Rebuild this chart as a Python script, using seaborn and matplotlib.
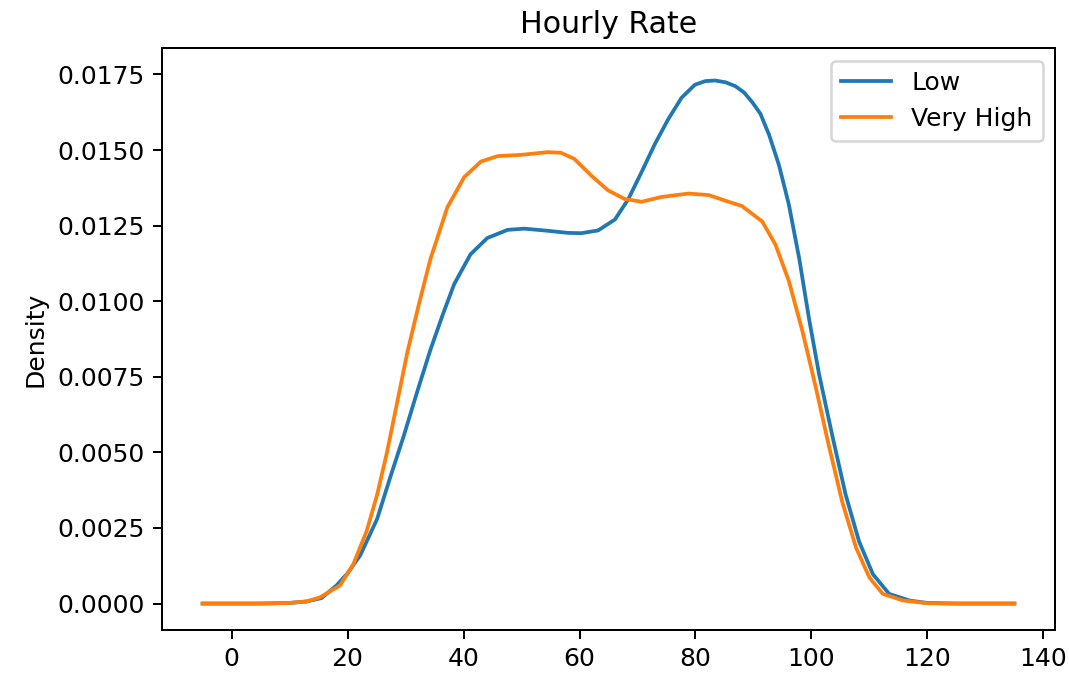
import matplotlib
matplotlib.use("Agg")
import matplotlib.pyplot as plt
import seaborn as sns
import pandas as pd

# Hourly rate values (x) and KDE densities
rate_low = [-5, 0, 5, 10, 13, 15.5, 18.1, 20, 22.2, 25.1, 27.4, 29.7, 32.0, 34.3,
            36.5, 38.4, 41.2, 44.1, 47.6, 50.5, 54.5, 58.0, 60.3, 63.2, 66.1, 68.4,
            70.7, 73.0, 75.3, 77.6, 79.9, 81.7, 83.4, 85.2, 86.9, 88.4, 89.8, 91.2,
            92.7, 94.4, 96.1, 97.9, 99.6, 101.3, 103.6, 105.9, 108.2, 110.6, 113.4,
            116.9, 120, 125, 130, 135]
density_low = [0, 0, 0, 0.00002, 0.00007, 0.00018, 0.0006, 0.0010, 0.0016, 0.0028,
               0.0042, 0.00555, 0.0070, 0.0084, 0.0096, 0.01057, 0.01155, 0.01209,
               0.01236, 0.0124, 0.01233, 0.01226, 0.01225, 0.01234, 0.0127, 0.01337,
               0.01427, 0.0152, 0.01602, 0.01673, 0.01716, 0.01728, 0.0173, 0.01724,
               0.01711, 0.0169, 0.01658, 0.0162, 0.0155, 0.0145, 0.0132, 0.0114,
               0.0094, 0.0076, 0.00555, 0.0036, 0.00206, 0.00097, 0.00032, 0.0001,
               0.00002, 0, 0, 0]

rate_very_high = [-5, 0, 5, 10, 13, 15.2, 18.7, 21.0, 23.3, 25.1, 26.8, 28.5, 30.3,
                  32.3, 34.3, 37.2, 40.1, 43.0, 45.9, 49.9, 54.5, 56.8, 59.1, 62.0,
                  64.9, 67.8, 70.7, 74.2, 78.8, 82.3, 85.7, 88.0, 91.5, 93.8, 96.1,
                  98.4, 100.7, 103.0, 105.3, 107.7, 110.0, 112.3, 115.8, 120, 125,
                  130, 135]
density_very_high = [0, 0, 0, 0.00002, 0.00007, 0.0002, 0.0006, 0.0013, 0.0024,
                     0.0036, 0.0050, 0.0066, 0.0083, 0.0099, 0.0114, 0.0131,
                     0.0141, 0.01462, 0.0148, 0.01484, 0.01493, 0.01491, 0.01471,
                     0.01416, 0.01367, 0.01338, 0.01329, 0.01345, 0.01356, 0.01351,
                     0.01329, 0.01315, 0.01264, 0.01187, 0.01067, 0.00904, 0.00719,
                     0.00522, 0.00337, 0.00184, 0.00086, 0.00032, 0.0001, 0.00001,
                     0, 0, 0]

series_names = ["Low", "Very High"]
colors = ["#1f77b4", "#ff7f0e"]

df = pd.concat([
    pd.DataFrame({"x": rate_low, "Density": density_low, "group": series_names[0]}),
    pd.DataFrame({"x": rate_very_high, "Density": density_very_high, "group": series_names[1]}),
], ignore_index=True)

fig, ax = plt.subplots(figsize=(1069 / 180, 679 / 180), dpi=180)
fig.subplots_adjust(left=162 / 1069, right=1055 / 1069, top=1 - 48 / 679, bottom=1 - 630 / 679)

for name, col in zip(series_names, colors):
    sub = df[df["group"] == name]
    sns.lineplot(data=sub, x="x", y="Density", color=col, label=name, ax=ax,
                 linewidth=1.5, sort=False)

ax.set_xlim(-12, 142)
ax.set_ylim(-0.000875, 0.018375)
ax.set_xticks([0, 20, 40, 60, 80, 100, 120, 140])
ax.set_yticks([0, 0.0025, 0.005, 0.0075, 0.01, 0.0125, 0.015, 0.0175])
ax.set_yticklabels(["0.0000", "0.0025", "0.0050", "0.0075", "0.0100", "0.0125", "0.0150", "0.0175"])
ax.set_xlabel("")
ax.set_ylabel("Density")
ax.set_title("Hourly Rate")
ax.legend(loc="upper right")

fig.savefig("out.png", dpi=180)
